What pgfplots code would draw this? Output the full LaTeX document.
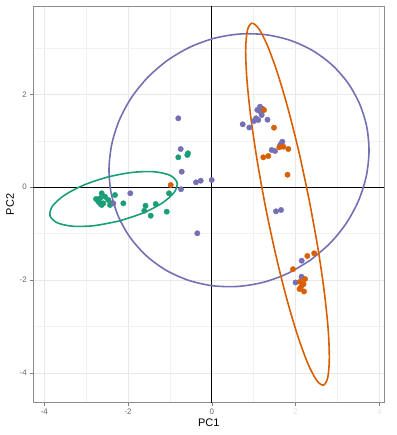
\documentclass[border=0pt]{standalone}
\usepackage{fontspec}
\setmainfont{Liberation Sans}
\usepackage{pgfplots}
\pgfplotsset{compat=1.18}
\definecolor{dgreen}{HTML}{1B9E77}
\definecolor{dorange}{HTML}{D95F02}
\definecolor{dpurple}{HTML}{7570B3}
\begin{document}
\begin{tikzpicture}
\begin{axis}[
  name=ax,
  scale only axis, width=351bp, height=396.7bp,
  xmin=-4.263, xmax=4.119, ymin=-4.639, ymax=3.901,
  xtick={-4,-2,0,2,4}, ytick={-4,-2,0,2},
  xticklabels={-4,-2,0,\textcolor{black!12}{2},\textcolor{black!12}{4}},
  yticklabels={-4,-2,0,2},
  minor xtick={-3,-1,1,3}, minor ytick={-3,-1,1,3},
  grid=both,
  major grid style={color=black!9, line width=0.8bp},
  minor grid style={color=black!5, line width=0.5bp},
  axis line style={color=black!45, line width=0.8bp},
  tick align=outside, xtick pos=bottom, ytick pos=left,
  major tick length=3bp, minor tick length=0bp,
  tick style={color=black!50, line width=0.6bp},
  tick label style={font=\fontsize{8}{9}\selectfont, color=black!60},
  /pgf/number format/assume math mode=true,
  xlabel={PC1}, ylabel={PC2},
  label style={font=\fontsize{11}{13}\selectfont},
  xlabel style={at={(axis description cs:0.5,-0.0504)}, anchor=center},
  ylabel style={at={(axis description cs:-0.0664,0.5)}, anchor=center},
]
% zero lines
\addplot[black, line width=0.8bp] coordinates {(-4.263,0) (4.119,0)};
\addplot[black, line width=0.8bp] coordinates {(0,-4.639) (0,3.901)};

% green points
\addplot[only marks, mark=*, mark size=2.7bp, color=dgreen, mark options={fill=dgreen, draw=dgreen}] coordinates {
(-2.629,-0.131) (-2.670,-0.239) (-2.710,-0.312) (-2.591,-0.347) (-2.472,-0.276)
(-2.312,-0.168) (-2.390,-0.347) (-2.113,-0.347) (-2.550,-0.205) (-2.670,-0.347)
(-2.629,-0.383) (-2.431,-0.383) (-2.765,-0.254) (-1.583,-0.398) (-1.340,-0.362)
(-1.612,-0.506) (-1.459,-0.614) (-1.077,-0.527) (-1.022,-0.131) (-0.800,0.644)
(-0.585,0.693) (-0.568,0.730) (1.628,0.893)
};
% purple points
\addplot[only marks, mark=*, mark size=2.7bp, color=dpurple, mark options={fill=dpurple, draw=dpurple}] coordinates {
(-1.946,-0.131) (-2.352,-0.347) (-0.800,1.483) (-0.743,0.822) (-0.719,0.334)
(-0.377,0.105) (-0.265,0.140) (-0.002,0.155) (-0.736,-0.045) (-0.346,-0.992)
(0.738,1.354) (0.896,1.285) (1.151,1.733) (1.087,1.662) (1.216,1.684)
(1.168,1.613) (1.192,1.554) (1.056,1.483) (1.008,1.425) (1.330,1.453)
(1.110,1.447) (1.684,0.980) (1.645,0.924) (1.430,0.801) (1.509,0.779)
(1.533,-0.519) (1.653,-0.491) (2.147,-1.582) (2.142,-1.927) (1.999,-2.052)
};
% orange points
\addplot[only marks, mark=*, mark size=2.7bp, color=dorange, mark options={fill=dorange, draw=dorange}] coordinates {
(-0.981,0.047) (1.247,1.662) (1.485,1.281) (1.612,0.859) (1.707,0.872)
(1.827,0.822) (1.349,0.672) (1.230,0.644) (1.808,0.269) (2.281,-1.481)
(2.445,-1.423) (1.939,-1.765) (2.226,-1.976) (2.106,-2.034) (2.190,-2.088)
(2.094,-2.192) (2.202,-2.245) (2.130,-2.149)
};

% purple ellipse
\addplot[dpurple, line width=1.6bp, smooth, tension=0.5, mark=none] coordinates {
(2.353,-1.571) (1.815,-1.855) (1.230,-2.047) (0.625,-2.136) (0.019,-2.121)
(-0.562,-2.003) (-1.096,-1.786) (-1.563,-1.476) (-1.946,-1.088) (-2.228,-0.637)
(-2.401,-0.138) (-2.455,0.389) (-2.390,0.922) (-2.209,1.443) (-1.919,1.930)
(-1.528,2.366) (-1.054,2.733) (-0.515,3.018) (0.069,3.209) (0.675,3.298)
(1.280,3.284) (1.861,3.165) (2.395,2.948) (2.863,2.639) (3.245,2.251)
(3.527,1.799) (3.700,1.300) (3.754,0.774) (3.689,0.240) (3.508,-0.280)
(3.218,-0.767) (2.827,-1.204) (2.353,-1.571)
};
% green ellipse
\addplot[dgreen, line width=1.6bp, smooth, tension=0.51, mark=none] coordinates {
(-2.211,-0.727) (-2.802,-0.827) (-3.323,-0.840) (-3.696,-0.764) (-3.864,-0.610)
(-3.801,-0.402) (-3.516,-0.171) (-3.055,0.047) (-2.484,0.219) (-1.893,0.319)
(-1.372,0.332) (-0.999,0.256) (-0.831,0.102) (-0.894,-0.106) (-1.179,-0.337)
(-1.640,-0.555) (-2.211,-0.727)
};
% orange ellipse
\addplot[dorange, line width=1.6bp, smooth, tension=0.51, mark=none] coordinates {
(2.325,-0.274) (2.529,-1.285) (2.683,-2.233) (2.778,-3.054) (2.806,-3.692)
(2.767,-4.104) (2.662,-4.261) (2.499,-4.152) (2.289,-3.785) (2.046,-3.185)
(1.787,-2.393) (1.529,-1.463) (1.290,-0.458) (1.087,0.553) (0.932,1.501)
(0.838,2.323) (0.809,2.960) (0.849,3.372) (0.954,3.529) (1.117,3.420)
(1.327,3.053) (1.570,2.453) (1.829,1.661) (2.087,0.731) (2.325,-0.274)
};
\end{axis}
\pgfresetboundingbox
\path ([xshift=-33.3bp,yshift=-32.3bp]ax.south west) rectangle ([xshift=12.7bp,yshift=6bp]ax.north east);
\end{tikzpicture}
\end{document}
